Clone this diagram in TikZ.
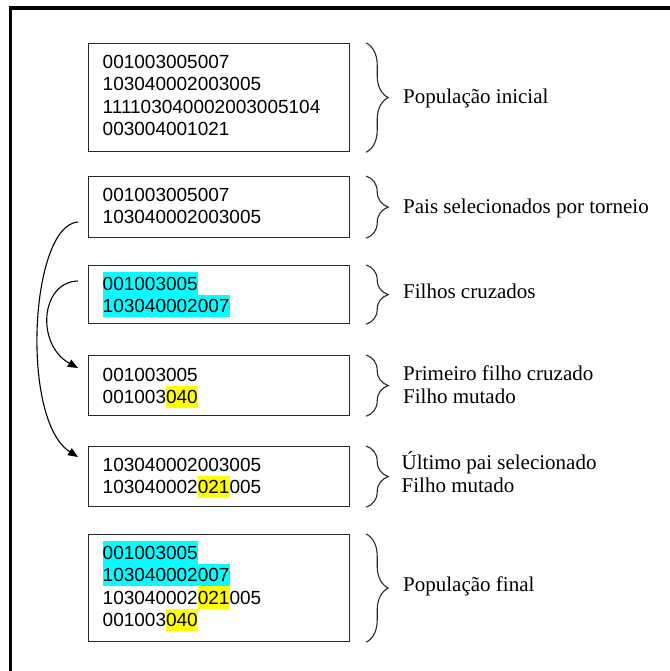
\documentclass[tikz,border=0pt]{standalone}
\usepackage{fontspec}
\setmainfont{Liberation Serif}
\newfontfamily\seqfont{Liberation Sans}
\usetikzlibrary{arrows.meta,decorations.pathreplacing,calc}
\definecolor{hlcyan}{RGB}{0,255,255}
\definecolor{hlyellow}{RGB}{255,255,0}
\definecolor{boxline}{RGB}{40,40,40}
% one text line: 18pt above the baseline, 4.5pt below
\newcommand\seqstrut{\rule[-4.5pt]{0pt}{22.5pt}}
\newcommand\cyanmark[1]{{\setlength\fboxsep{0pt}\colorbox{hlcyan}{\seqstrut#1}}}
\newcommand\yellowmark[1]{{\setlength\fboxsep{0pt}\colorbox{hlyellow}{\seqstrut#1}}}
\begin{document}
\begin{tikzpicture}[x=1pt,y=-1pt,
  seqbox/.style={draw=boxline, line width=1.2pt, inner sep=0pt, anchor=north west, minimum width=261pt},
  seqtext/.style={anchor=north west, inner sep=0pt, align=left,
    font=\seqfont\fontsize{19}{22.5}\selectfont},
  tag/.style={anchor=base west, inner sep=0pt, font=\fontsize{21}{24}\selectfont},
  curly/.style={draw=boxline, line width=1.1pt, decorate,
    decoration={brace, amplitude=22pt, aspect=0.5}},
  flow/.style={draw=black, line width=1.1pt, -{Triangle[length=10pt,width=8pt]}},
  frame/.style={draw=black, line width=3.5pt, line join=miter}]
\useasboundingbox (0,0) rectangle (669,671);

% outer frame (open to the right and bottom)
\draw[frame] (10.5,680) -- (10.5,8) -- (680,8);

% chromosome boxes
\node[seqbox, minimum height=108pt] (b1) at (88,43) {};
\node[seqbox, minimum height=61pt]  (b2) at (88,176) {};
\node[seqbox, minimum height=58pt]  (b3) at (88,265) {};
\node[seqbox, minimum height=60pt]  (b4) at (88,355) {};
\node[seqbox, minimum height=60pt]  (b5) at (88,446) {};
\node[seqbox, minimum height=107pt] (b6) at (88,534) {};

% chromosome strings
\node[seqtext] (t1) at (102.5,50) {\seqstrut 001003005007\\ \seqstrut 103040002003005\\
  \seqstrut 111103040002003005104\\ \seqstrut 003004001021};
\node[seqtext] (t2) at (102.5,183) {\seqstrut 001003005007\\ \seqstrut 103040002003005};
\node[seqtext] (t3) at (102.5,272) {\cyanmark{001003005}\\ \cyanmark{103040002007}};
\node[seqtext] (t4) at (102.5,363) {\seqstrut 001003005\\ \seqstrut 001003\yellowmark{040}};
\node[seqtext] (t5) at (102.5,453) {\seqstrut 103040002003005\\ \seqstrut 103040002\yellowmark{021}005};
\node[seqtext] (t6) at (102.5,541) {\cyanmark{001003005}\\ \cyanmark{103040002007}\\
  \seqstrut 103040002\yellowmark{021}005\\ \seqstrut 001003\yellowmark{040}};

% braces
\foreach \b in {b1,b2,b3,b4,b5,b6}
  \draw[curly] ([xshift=16pt]\b.north east) -- ([xshift=16pt]\b.south east);

% step labels
\node[tag] (l1)  at (403,104) {População inicial};
\node[tag] (l2)  at (403,213) {Pais selecionados por torneio};
\node[tag] (l3)  at (403,298) {Filhos cruzados};
\node[tag] (l4a) at (403,380) {Primeiro filho cruzado};
\node[tag] (l4b) at (403,403) {Filho mutado};
\node[tag] (l5a) at (401.5,469) {Último pai selecionado};
\node[tag] (l5b) at (401.5,492) {Filho mutado};
\node[tag] (l6)  at (403,591) {População final};

% flow of the selected parent and of the first crossed child
\coordinate (selOut) at ($(b2.north west)+(-10,46)$);
\coordinate (mutIn1) at ($(b5.north west)+(-10,11)$);
\coordinate (crOut)  at ($(b3.north west)+(-10,16)$);
\coordinate (mutIn0) at ($(b4.north west)+(-10,13)$);
\draw[flow] (selOut) .. controls (30,225) and (20,420) .. (mutIn1);
\draw[flow] (crOut) .. controls (40,282) and (36,345) .. (mutIn0);
\end{tikzpicture}
\end{document}
